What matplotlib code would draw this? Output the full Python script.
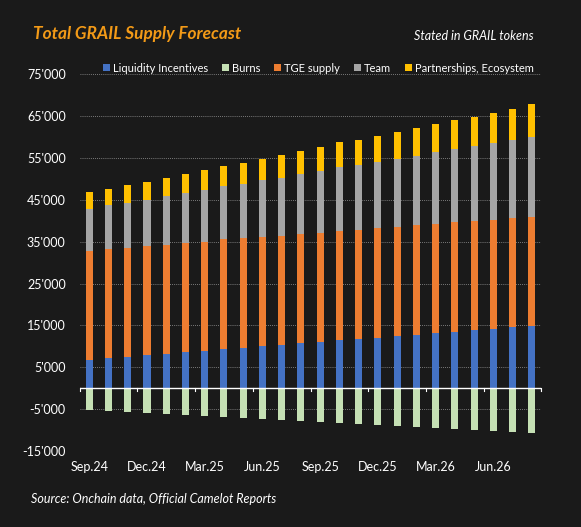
import matplotlib.pyplot as plt
import numpy as np

# months shown, Sep.24 .. Aug.26
months = ['Sep.24', 'Oct.24', 'Nov.24', 'Dec.24', 'Jan.25', 'Feb.25', 'Mar.25', 'Apr.25',
          'May.25', 'Jun.25', 'Jul.25', 'Aug.25', 'Sep.25', 'Oct.25', 'Nov.25', 'Dec.25',
          'Jan.26', 'Feb.26', 'Mar.26', 'Apr.26', 'May.26', 'Jun.26', 'Jul.26', 'Aug.26']

liquidity = [6750, 7200, 7550, 7950, 8250, 8700, 9000, 9400, 9700, 10100, 10400, 10800,
             11100, 11500, 11800, 12100, 12500, 12700, 13200, 13500, 13900, 14200, 14600, 14900]
burns = [-5140, -5380, -5690, -5930, -6170, -6410, -6650, -6890, -7130, -7370, -7610, -7850,
         -8050, -8250, -8500, -8730, -8970, -9200, -9450, -9700, -9900, -10200, -10400, -10700]
tge = [26050, 26100, 26050, 26050, 26050, 26100, 26000, 26200, 26100, 25950, 26000, 25950,
       26000, 25950, 26100, 26100, 26100, 26200, 26100, 26100, 26100, 26100, 26000, 26100]
team = [10000, 10400, 10700, 11000, 11700, 11800, 12300, 12600, 13100, 13600, 13900, 14500,
        14800, 15300, 15400, 15900, 16200, 16600, 17200, 17500, 17900, 18300, 18800, 19100]
partners = [4000, 4000, 4200, 4300, 4300, 4600, 4800, 4800, 4900, 5200, 5500, 5500,
            5800, 6000, 6100, 6200, 6500, 6700, 6700, 7100, 7000, 7200, 7400, 7700]

bg = '#1a1a1a'
plt.rcParams['font.family'] = ['Lato', 'DejaVu Sans']

fig = plt.figure(figsize=(5.81, 5.27), dpi=100, facecolor=bg)
ax = fig.add_axes([0.137, 0.1442, 0.795, 0.7148])
ax.set_facecolor(bg)

x = np.arange(len(months))
w = 0.37
liq = np.array(liquidity)
tg = np.array(tge)
tm = np.array(team)

ax.bar(x, liq, w, color='#4472C4', label='Liquidity Incentives', zorder=3)
ax.bar(x, burns, w, color='#C5E0B4', label='Burns', zorder=3)
ax.bar(x, tg, w, bottom=liq, color='#ED7D31', label='TGE supply', zorder=3)
ax.bar(x, tm, w, bottom=liq + tg, color='#A5A5A5', label='Team', zorder=3)
ax.bar(x, partners, w, bottom=liq + tg + tm, color='#FFC000',
       label='Partnerships, Ecosystem', zorder=3)

ax.set_xlim(-0.5, len(months) - 0.5)
ax.set_ylim(-15000, 75000)
yt = np.arange(-15000, 75001, 10000)
ax.set_yticks(yt)
ax.set_yticklabels([f'{v:,}'.replace(',', "'") for v in yt], color='white', fontsize=9)
ax.grid(axis='y', color='#9a9a9a', linestyle=(0, (1, 1.5)), linewidth=0.6, zorder=0)
ax.tick_params(axis='y', length=0, pad=10)

# month labels every quarter, tick marks between groups on the zero line
ax.set_xticks(x[::3])
ax.set_xticklabels(months[::3], color='white', fontsize=9)
ax.tick_params(axis='x', length=0, pad=7)
ax.axhline(0, color='white', linewidth=1.0, zorder=4)
for b in np.arange(-0.5, len(months), 3):
    ax.plot([b, b], [0, -700], color='white', linewidth=0.8, zorder=4, clip_on=False)
ax.plot([len(months) - 0.5] * 2, [0, -700], color='white', linewidth=0.8, zorder=4)

for s in ax.spines.values():
    s.set_visible(False)

leg = ax.legend(ncol=5, loc='lower right', bbox_to_anchor=(0.993, 0.99), frameon=False,
                fontsize=8, handlelength=0.65, handleheight=0.65, handletextpad=0.25,
                columnspacing=1.25, borderaxespad=0)
for t in leg.get_texts():
    t.set_color('white')

fig.text(0.057, 0.935, 'Total GRAIL Supply Forecast', color='#F39A17', fontsize=12.4,
         fontweight='bold', fontstyle='italic', va='center')
fig.text(0.918, 0.932, 'Stated in GRAIL tokens', color='white', fontsize=9,
         fontstyle='italic', va='center', ha='right')
fig.text(0.053, 0.053, 'Source: Onchain data, Official Camelot Reports', color='white',
         fontsize=9, fontstyle='italic', va='center')

plt.savefig('out.png', dpi=100, facecolor=bg)
